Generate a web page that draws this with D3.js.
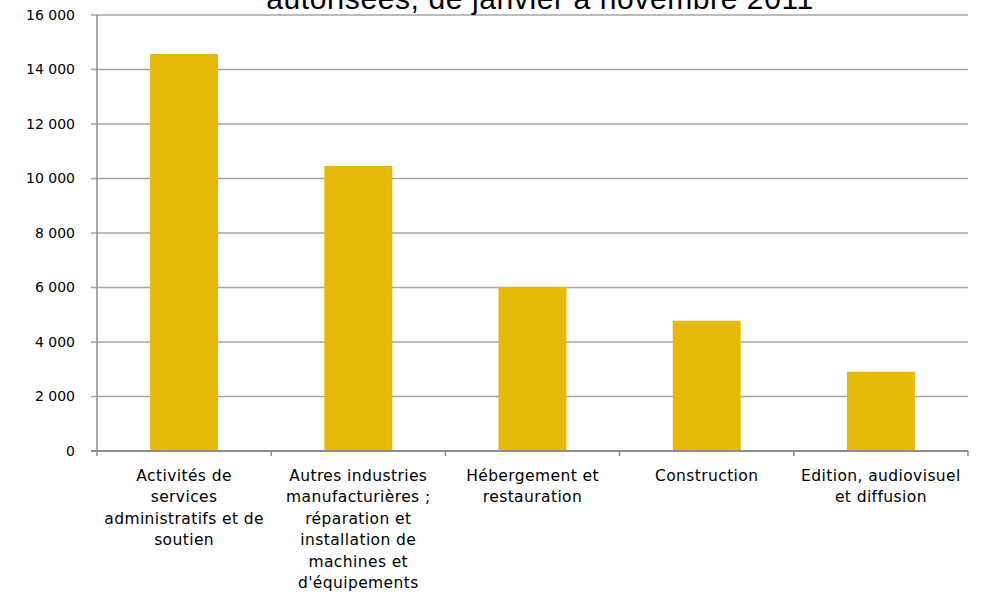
<!DOCTYPE html>
<html>
<head>
<meta charset="utf-8">
<script src="https://cdn.jsdelivr.net/npm/d3@7"></script>
<style>
  body { margin: 0; background: #fff; }
  svg { display: block; }
</style>
</head>
<body>
<svg id="chart" width="985" height="599"></svg>
<script>
// values
const categories = [
    ["Activités de", "services", "administratifs et de", "soutien"],
    ["Autres industries", "manufacturières ;", "réparation et", "installation de", "machines et", "d'équipements"],
    ["Hébergement et", "restauration"],
    ["Construction"],
    ["Edition, audiovisuel", "et diffusion"]
];
const values = [14570, 10460, 6020, 4780, 2910];
const yTicks = [0, 2000, 4000, 6000, 8000, 10000, 12000, 14000, 16000];
const titleLine = "autorisées, de janvier à novembre 2011";

const svg = d3.select("#chart");
const plotLeft = 97, plotRight = 968, plotTop = 15, plotBottom = 451;

const x = d3.scaleBand()
    .domain(d3.range(values.length))
    .range([plotLeft, plotRight])
    .paddingInner(0.61)
    .paddingOuter(0.305);

const y = d3.scaleLinear()
    .domain([0, 16000])
    .range([plotBottom, plotTop]);

const fmt = v => d3.format(",")(v).replace(/,/g, " ");

// gridlines
svg.append("g")
    .selectAll("line")
    .data(yTicks.filter(d => d > 0))
    .enter().append("line")
    .attr("x1", plotLeft - 6)
    .attr("x2", plotRight)
    .attr("y1", d => y(d))
    .attr("y2", d => y(d))
    .attr("stroke", "#a6a6a6")
    .attr("stroke-width", 1.5);

// bars
svg.append("g")
    .selectAll("rect")
    .data(values)
    .enter().append("rect")
    .attr("x", (d, i) => x(i))
    .attr("width", x.bandwidth())
    .attr("y", d => y(d))
    .attr("height", d => plotBottom - y(d))
    .attr("fill", "#e6b807");

// y axis line
svg.append("line")
    .attr("x1", plotLeft).attr("x2", plotLeft)
    .attr("y1", plotTop).attr("y2", plotBottom)
    .attr("stroke", "#8c8c8c")
    .attr("stroke-width", 1.5);

// x axis line
svg.append("line")
    .attr("x1", plotLeft - 6).attr("x2", plotRight)
    .attr("y1", plotBottom).attr("y2", plotBottom)
    .attr("stroke", "#8c8c8c")
    .attr("stroke-width", 2);

// category boundary ticks
svg.append("g")
    .selectAll("line")
    .data(d3.range(values.length + 1))
    .enter().append("line")
    .attr("x1", i => plotLeft + i * (plotRight - plotLeft) / values.length)
    .attr("x2", i => plotLeft + i * (plotRight - plotLeft) / values.length)
    .attr("y1", plotBottom)
    .attr("y2", plotBottom + 5)
    .attr("stroke", "#8c8c8c")
    .attr("stroke-width", 1.5);

// y tick labels
svg.append("g")
    .selectAll("text")
    .data(yTicks)
    .enter().append("text")
    .attr("x", plotLeft - 22)
    .attr("y", d => y(d))
    .attr("dy", "0.35em")
    .attr("text-anchor", "end")
    .attr("font-family", "DejaVu Sans")
    .attr("font-size", 14)
    .attr("fill", "#000")
    .text(d => fmt(d));

// category labels
const labels = svg.append("g")
    .selectAll("text")
    .data(categories)
    .enter().append("text")
    .attr("x", (d, i) => x(i) + x.bandwidth() / 2)
    .attr("y", 481)
    .attr("text-anchor", "middle")
    .attr("font-family", "DejaVu Sans")
    .attr("font-size", 15.5)
    .attr("letter-spacing", 0.4)
    .attr("fill", "#000");

labels.selectAll("tspan")
    .data(d => d)
    .enter().append("tspan")
    .attr("x", function() { return d3.select(this.parentNode).attr("x"); })
    .attr("dy", (d, i) => i === 0 ? 0 : 21.4)
    .text(d => d);

// title (top line is cut by the frame)
svg.append("text")
    .attr("x", 540)
    .attr("y", 9)
    .attr("text-anchor", "middle")
    .attr("font-family", "Liberation Sans")
    .attr("font-size", 30)
    .attr("letter-spacing", 0.6)
    .attr("fill", "#000")
    .text(titleLine);
</script>
</body>
</html>
